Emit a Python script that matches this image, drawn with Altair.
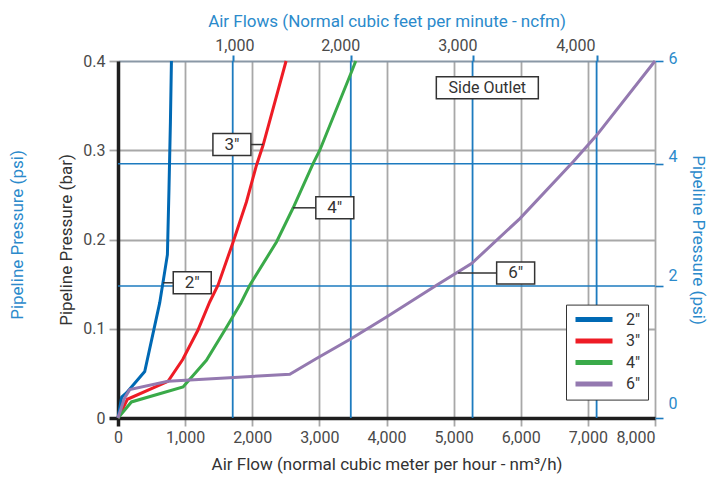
import altair as alt
import pandas as pd

# ---- curve data: air flow (nm3/h) vs pipeline pressure (bar) ----
x_2in = [0, 55, 125, 398, 621, 696, 736, 760, 781, 796]
y_2in = [0, 0.0235, 0.028, 0.052, 0.129, 0.164, 0.183, 0.258, 0.332, 0.400]
x_3in = [0, 140, 745, 964, 1188, 1366, 1490, 1714, 1913, 2062, 2161, 2504]
y_3in = [0, 0.021, 0.041, 0.0655, 0.098, 0.130, 0.1487, 0.197, 0.242, 0.283, 0.3055, 0.400]
x_4in = [0, 200, 969, 1317, 1590, 1829, 1963, 2361, 2608, 2906, 3006, 3478, 3542]
y_4in = [0, 0.018, 0.0347, 0.0647, 0.0983, 0.1286, 0.1487, 0.1972, 0.2353, 0.2850, 0.3000, 0.3877, 0.400]
x_6in = [0, 95, 174, 745, 2559, 2957, 3478, 4000, 4745, 5267, 5987, 6781, 7130, 8000]
y_6in = [0, 0.022, 0.0318, 0.0411, 0.049, 0.0666, 0.089, 0.1132, 0.1487, 0.173, 0.2234, 0.287, 0.3167, 0.400]

series_names = ["2\u2033", "3\u2033", "4\u2033", "6\u2033"]
series_colors = ["#0069b4", "#ee1c25", "#3aaa49", "#9479b0"]

# ---- axes ----
x_ticks = [0, 1000, 2000, 3000, 4000, 5000, 6000, 7000, 8000]
y_ticks = [0, 0.1, 0.2, 0.3, 0.4]

# top axis (ncfm), positions expressed in nm3/h as drawn
ncfm_labels = ["1,000", "2,000", "3,000", "4,000"]
ncfm_line_pos = [1709, 3468, 5282, 7130]
ncfm_label_pos = [1742, 3319, 5063, 6822]

# right axis (psi), positions expressed in bar as drawn
psi_labels = ["0", "2", "4", "6"]
psi_tick_pos = [0, 0.148, 0.285, 0.4]
psi_label_pos = [0.0153, 0.159, 0.292, 0.4025]
psi_line_pos = [0.148, 0.285]

# ---- annotations ----
tag_text = ["2\u2033", "3\u2033", "4\u2033", "6\u2033"]
tag_x = [1106, 1697, 3230, 5924]
tag_y = [0.1515, 0.3064, 0.2355, 0.1625]
lead_from = [671, 2161, 2608, 5067]
lead_to = [820, 1971, 2942, 5639]
note_text = ["Side Outlet"]
note_x = [5502]
note_y = [0.370]

title_top = "Air Flows (Normal cubic feet per minute - ncfm)"
title_bottom = "Air Flow (normal cubic meter per hour - nm\u00b3/h)"
title_bar = "Pipeline Pressure (bar)"
title_psi = "Pipeline Pressure (psi)"

BLUE = "#1d7bbf"
TBLUE = "#2b8acb"
GRID = "#a8a8a8"
DARK = "#1e1e1e"
TXT = "#333333"

rows = []
for name, xs_, ys_ in zip(series_names, [x_2in, x_3in, x_4in, x_6in], [y_2in, y_3in, y_4in, y_6in]):
    for i, (a, b) in enumerate(zip(xs_, ys_)):
        rows.append({"series": name, "x": a, "y": b, "order": i})
curves = pd.DataFrame(rows)

xs = alt.Scale(domain=[0, 8000], nice=False, zero=False)
ys = alt.Scale(domain=[0, 0.4], nice=False, zero=False)

bottom_axis = alt.Axis(
    values=x_ticks, labelExpr="format(datum.value, ',')", grid=True, gridColor=GRID, gridWidth=1.8,
    domainColor=DARK, domainWidth=3.5,
    tickColor={"condition": {"test": "datum.value == 0", "value": DARK}, "value": GRID},
    tickWidth={"condition": {"test": "datum.value == 0", "value": 3.5}, "value": 1.8},
    labelFlush=False,
    labelAlign={"condition": {"test": "datum.value >= 8000", "value": "right"}, "value": "center"},
    tickSize=8, labelFontSize=16, labelColor="#4a4a4a", labelPadding=3,
    title=title_bottom, titleColor=TXT, titleFontSize=17, titleFontWeight="normal",
    titlePadding=11,
)
left_axis = alt.Axis(
    values=y_ticks, labelExpr="datum.value == 0 ? '0' : format(datum.value, '.1f')",
    grid=True,
    gridColor={"condition": {"test": "datum.value >= 0.4", "value": "#8a98a6"}, "value": GRID},
    gridWidth=1.8, domainColor=DARK, domainWidth=3.5,
    tickColor={"condition": {"test": "datum.value == 0", "value": DARK}, "value": GRID},
    tickWidth={"condition": {"test": "datum.value == 0", "value": 3.5}, "value": 1.8},
    tickSize=9, labelFontSize=16, labelColor="#4a4a4a", labelPadding=4,
    title=title_bar, titleColor=TXT, titleFontSize=17, titleFontWeight="normal",
    titlePadding=7,
)
top_axis = alt.Axis(
    orient="top", values=ncfm_line_pos, labels=False, domain=False, grid=False,
    tickColor=BLUE, tickWidth=2, tickSize=6,
    title=title_top, titleColor=TBLUE, titleFontSize=17, titleFontWeight="normal",
    titlePadding=24,
)
right_axis = alt.Axis(
    orient="right", values=psi_tick_pos, labels=False, domain=False, grid=False,
    tickColor=BLUE, tickWidth=1.6, tickSize=8,
    title=title_psi, titleColor=TBLUE, titleFontSize=17, titleFontWeight="normal",
    titlePadding=25,
)

ncfm_df = pd.DataFrame({"pos": ncfm_line_pos})
ncfm_rules = alt.Chart(ncfm_df).mark_rule(color=BLUE, strokeWidth=1.8).encode(
    x=alt.X("pos:Q", scale=xs, axis=top_axis),
    y=alt.YDatum(0, scale=ys, axis=None),
    y2=alt.Y2Datum(0.4),
)

psi_df = pd.DataFrame({"pos": psi_line_pos})
psi_rules = alt.Chart(psi_df).mark_rule(color=BLUE, strokeWidth=1.5).encode(
    y=alt.Y("pos:Q", scale=ys, axis=right_axis),
    x=alt.XDatum(0, scale=xs, axis=None),
    x2=alt.X2Datum(8000),
)

lines = alt.Chart(curves).mark_line(strokeWidth=3).encode(
    x=alt.X("x:Q", scale=xs, axis=bottom_axis),
    y=alt.Y("y:Q", scale=ys, axis=left_axis),
    color=alt.Color(
        "series:N",
        scale=alt.Scale(domain=series_names, range=series_colors),
        legend=alt.Legend(
            title=None, orient="none", legendX=448, legendY=243.6, direction="vertical",
            symbolType="stroke", symbolSize=1369, symbolStrokeWidth=5,
            labelFontSize=16, labelColor=TXT, labelOffset=11,
            padding=7, rowPadding=5.5, clipHeight=16,
            strokeColor=TXT, fillColor="white",
        ),
    ),
    order="order:Q",
)

tags = pd.DataFrame({"t": tag_text, "x": tag_x, "y": tag_y, "x1": lead_from, "x2": lead_to})
leaders = alt.Chart(tags).mark_rule(color=TXT, strokeWidth=1.5).encode(
    x=alt.X("x1:Q", scale=xs, axis=None), x2="x2:Q", y=alt.Y("y:Q", scale=ys, axis=None)
)
tag_boxes = alt.Chart(tags).mark_rect(width=38, height=22, fill="white", stroke=TXT, strokeWidth=1.5).encode(
    x=alt.X("x:Q", scale=xs, axis=None), y=alt.Y("y:Q", scale=ys, axis=None)
)
tag_texts = alt.Chart(tags).mark_text(fontSize=17, color=TXT).encode(
    x=alt.X("x:Q", scale=xs, axis=None), y=alt.Y("y:Q", scale=ys, axis=None), text="t:N"
)

notes = pd.DataFrame({"t": note_text, "x": note_x, "y": note_y})
note_box = alt.Chart(notes).mark_rect(width=102, height=22, fill="white", stroke=TXT, strokeWidth=1.5).encode(
    x=alt.X("x:Q", scale=xs, axis=None), y=alt.Y("y:Q", scale=ys, axis=None)
)
note_txt = alt.Chart(notes).mark_text(fontSize=16, color=TXT).encode(
    x=alt.X("x:Q", scale=xs, axis=None), y=alt.Y("y:Q", scale=ys, axis=None), text="t:N"
)

top_lab_df = pd.DataFrame({"pos": ncfm_label_pos, "label": ncfm_labels})
top_labels = alt.Chart(top_lab_df).mark_text(fontSize=16, color="#4a4a4a", baseline="middle").encode(
    x=alt.X("pos:Q", scale=xs, axis=None), y=alt.value(-15), text="label:N"
)

right_lab_df = pd.DataFrame({"pos": psi_label_pos, "label": psi_labels})
right_labels = alt.Chart(right_lab_df).mark_text(fontSize=16, color=TBLUE, dx=18, baseline="middle").encode(
    x=alt.XDatum(8000, scale=xs, axis=None), y=alt.Y("pos:Q", scale=ys, axis=None), text="label:N"
)

left_title = alt.Chart(pd.DataFrame({"t": [title_psi]})).mark_text(
    fontSize=17, color=TBLUE, angle=270, baseline="middle"
).encode(x=alt.value(-100), y=alt.value(174), text="t:N")

chart = alt.layer(
    ncfm_rules, psi_rules, lines, leaders, tag_boxes, tag_texts, note_box, note_txt,
    top_labels, right_labels, left_title,
).resolve_axis(x="independent", y="independent").properties(
    width=537, height=357,
    autosize=alt.AutoSizeParams(type="none"),
    padding={"left": 110, "top": 53, "right": 56, "bottom": 58},
).configure(font="Roboto").configure_view(stroke="transparent")

chart.save("out.html", embed_options={"renderer": "svg", "actions": False})
